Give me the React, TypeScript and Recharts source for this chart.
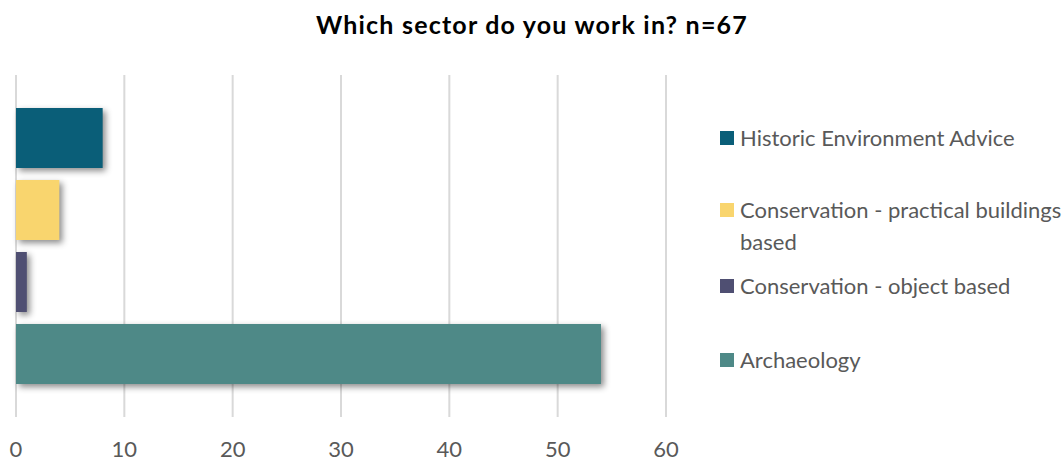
import React from 'react'
import { BarChart, Bar, XAxis, YAxis, CartesianGrid, Rectangle } from 'recharts'

const categories = ['Sector']
const seriesKeys = ['hea', 'cpb', 'cob', 'arch']
const seriesNames = [
  'Historic Environment Advice',
  'Conservation - practical buildings based',
  'Conservation - object based',
  'Archaeology',
]
const seriesValues = [8, 4, 1, 54]
const seriesColors = ['#0a5e78', '#f9d56e', '#4f4f72', '#4e8987']
const xTicks = [0, 10, 20, 30, 40, 50, 60]

const data = categories.map((name) => {
  const row: Record<string, string | number> = { name }
  seriesKeys.forEach((k, i) => {
    row[k] = seriesValues[i]
  })
  return row
})

if (typeof document !== 'undefined') document.body.style.margin = '0'

const FONT = 'Lato, "Open Sans", sans-serif'
const TEXT_GRAY = '#595959'

const ShadowBar = (props: any) => (
  <Rectangle {...props} style={{ filter: 'drop-shadow(3px 3px 3px rgba(0,0,0,0.45))' }} />
)

// spacing in front of each legend entry (Excel spreads them out unevenly)
const legendGaps = [0, 40, 12, 42]

const SideLegend = () => (
  <div
    style={{
      position: 'absolute',
      left: 720,
      top: 122,
      width: 344,
      fontFamily: FONT,
      fontSize: 22,
      color: TEXT_GRAY,
      lineHeight: '32px',
    }}
  >
    {seriesNames.map((n, i) => (
      <div key={n} style={{ display: 'flex', alignItems: 'flex-start', marginTop: legendGaps[i] }}>
        <span
          style={{
            display: 'inline-block',
            width: 14,
            height: 14,
            background: seriesColors[i],
            marginTop: 9,
            marginRight: 6,
            flex: 'none',
          }}
        />
        <span>{n}</span>
      </div>
    ))}
  </div>
)

export default function App() {
  return (
    <div style={{ position: 'relative', width: 1064, height: 461, background: '#fff' }}>
      <div
        style={{
          position: 'absolute',
          top: 9,
          left: 0,
          width: 1064,
          textAlign: 'center',
          fontFamily: FONT,
          fontWeight: 700,
          fontSize: 25,
          letterSpacing: 1.2,
          color: '#000',
          zIndex: 1,
        }}
      >
        Which sector do you work in? n=67
      </div>
      <BarChart
        width={1064}
        height={461}
        data={data}
        layout="vertical"
        margin={{ top: 75, right: 398, bottom: 0, left: 16 }}
        barGap={12}
        barSize={60}
      >
        <CartesianGrid horizontal={false} stroke="#d9d9d9" strokeWidth={2} />
        <XAxis
          type="number"
          domain={[0, 60]}
          ticks={xTicks}
          axisLine={false}
          tickLine={false}
          height={44}
          tick={{ fill: TEXT_GRAY, fontSize: 22, fontFamily: FONT }}
          tickMargin={18}
          interval={0}
        />
        <YAxis type="category" dataKey="name" hide width={0} />
        {seriesKeys.map((k, i) => (
          <Bar
            key={k}
            dataKey={k}
            name={seriesNames[i]}
            fill={seriesColors[i]}
            shape={<ShadowBar />}
            isAnimationActive={false}
          />
        ))}
      </BarChart>
      <SideLegend />
    </div>
  )
}
